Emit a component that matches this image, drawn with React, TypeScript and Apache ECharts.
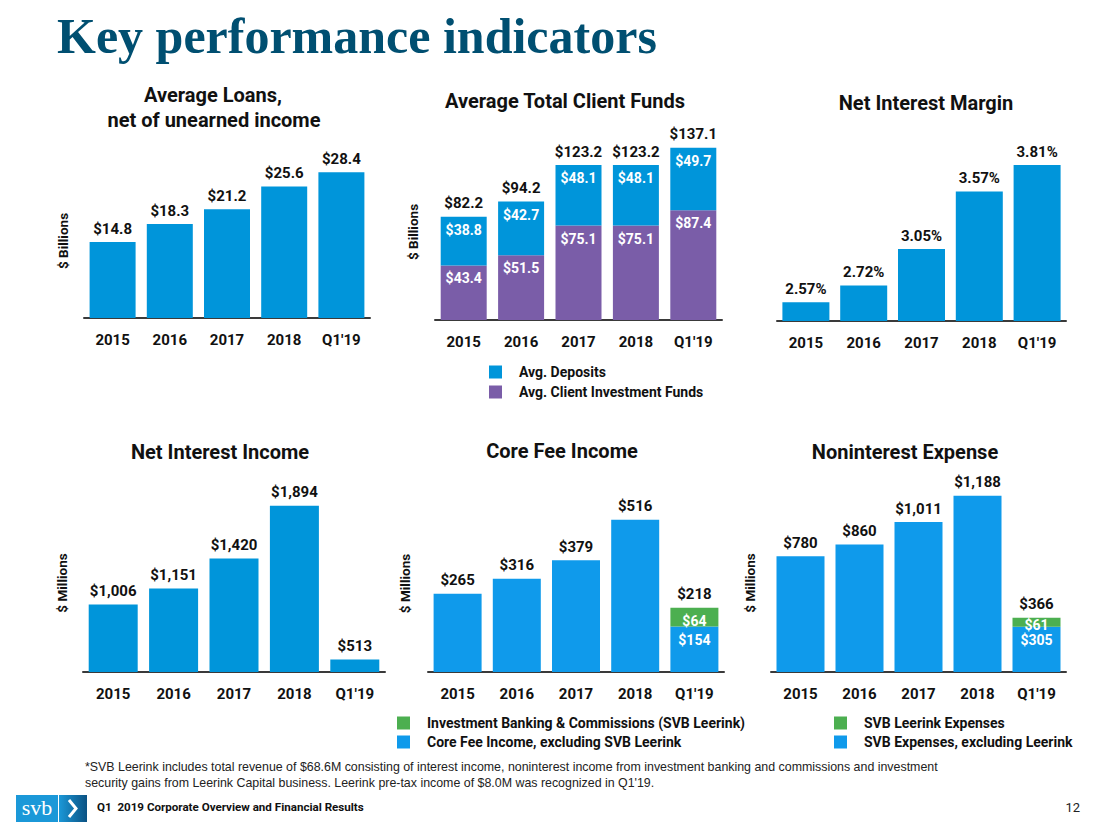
import React, { useEffect, useRef } from "react";
import * as echarts from "echarts";

const categories = ["2015", "2016", "2017", "2018", "Q1'19"];
const avgLoans = [14.8, 18.3, 21.2, 25.6, 28.4];
const clientInvestmentFunds = [43.4, 51.5, 75.1, 75.1, 87.4];
const avgDeposits = [38.8, 42.7, 48.1, 48.1, 49.7];
const netInterestMargin = [2.57, 2.72, 3.05, 3.57, 3.81];
const netInterestIncome = [1006, 1151, 1420, 1894, 513];
const coreFeeExLeerink = [265, 316, 379, 516, 154];
const investmentBankingLeerink: (number | null)[] = [null, null, null, null, 64];
const expensesExLeerink = [780, 860, 1011, 1188, 305];
const leerinkExpenses: (number | null)[] = [null, null, null, null, 61];

const F = "Roboto, 'Noto Sans', sans-serif";
const BLUE = "#0095DA";
const BLUE2 = "#0F9AEB";
const PURPLE = "#7A5DA8";
const GREEN = "#4CAF50";
const INK = "#111111";

const sumArr = (a: (number | null)[], b: (number | null)[]) =>
  a.map((v, i) => Math.round(((v ?? 0) + (b[i] ?? 0)) * 10) / 10);
const money = (v: number) => "$" + v.toLocaleString("en-US");
const money1 = (v: number) => "$" + v.toFixed(1);

const grids = [
  { left: 84, top: 164, width: 286, height: 154 },
  { left: 435, top: 144, width: 287, height: 176 },
  { left: 777, top: 144, width: 289, height: 177 },
  { left: 83, top: 494, width: 302, height: 178 },
  { left: 428, top: 495, width: 296, height: 177 },
  { left: 771, top: 494, width: 295, height: 178 },
];
const yCfg = [
  { min: 0, max: 30, name: "$ Billions", gap: 14 },
  { min: 0, max: 140, name: "$ Billions", gap: 15 },
  { min: 2.4, max: 4.0, name: "", gap: 14 },
  { min: 400, max: 2000, name: "$ Millions", gap: 14 },
  { min: 0, max: 600, name: "$ Millions", gap: 16 },
  { min: 0, max: 1200, name: "$ Millions", gap: 14 },
];
const barWidths = [46, 46, 47, 49, 48, 48];

const topLabel = (fmt: (v: number) => string) => ({
  show: true,
  position: "top" as const,
  distance: 6,
  color: INK,
  fontFamily: F,
  fontWeight: "bold" as const,
  fontSize: 15,
  formatter: (p: any) => fmt(p.value),
});
const inLabel = (fmt: (p: any) => string) => ({
  show: true,
  position: "insideTop" as const,
  distance: 6,
  color: "#ffffff",
  fontFamily: F,
  fontWeight: "bold" as const,
  fontSize: 14,
  formatter: fmt,
});

function buildOption() {
  const fundsTotal = sumArr(clientInvestmentFunds, avgDeposits);
  const feeTotal = sumArr(coreFeeExLeerink, investmentBankingLeerink);
  const expTotal = sumArr(expensesExLeerink, leerinkExpenses);

  const xAxis = grids.map((_, i) => ({
    gridIndex: i,
    type: "category",
    data: categories,
    axisLine: { lineStyle: { color: "#3a3a3a", width: 2 } },
    axisTick: { show: false },
    axisLabel: { fontFamily: F, fontWeight: "bold", fontSize: 15, color: INK, margin: 14 },
  }));
  const yAxis = yCfg.map((c, i) => ({
    gridIndex: i,
    type: "value",
    min: c.min,
    max: c.max,
    axisLine: { show: false },
    axisTick: { show: false },
    axisLabel: { show: false },
    splitLine: { show: false },
    name: c.name,
    nameLocation: "middle",
    nameRotate: 90,
    nameGap: c.gap,
    nameTextStyle: { fontFamily: F, fontWeight: "bold", fontSize: 13.5, color: INK },
  }));

  const series: any[] = [
    {
      type: "bar", name: "Average Loans", xAxisIndex: 0, yAxisIndex: 0,
      data: avgLoans, barWidth: barWidths[0], itemStyle: { color: BLUE },
      label: topLabel(money1),
    },
    {
      type: "bar", name: "Avg. Client Investment Funds", xAxisIndex: 1, yAxisIndex: 1,
      stack: "funds", data: clientInvestmentFunds, barWidth: barWidths[1], barGap: "-100%",
      itemStyle: { color: PURPLE }, label: inLabel((p) => money1(p.value)),
    },
    {
      type: "bar", name: "Avg. Deposits", xAxisIndex: 1, yAxisIndex: 1,
      stack: "funds", data: avgDeposits, barWidth: barWidths[1], barGap: "-100%",
      itemStyle: { color: BLUE }, label: inLabel((p) => money1(p.value)),
    },
    {
      type: "bar", name: "Total Client Funds", xAxisIndex: 1, yAxisIndex: 1,
      data: fundsTotal, barWidth: barWidths[1], barGap: "-100%", z: 1,
      itemStyle: { color: "rgba(0,0,0,0)" }, label: topLabel(money1),
    },
    {
      type: "bar", name: "Net Interest Margin", xAxisIndex: 2, yAxisIndex: 2,
      data: netInterestMargin, barWidth: barWidths[2], itemStyle: { color: BLUE },
      label: topLabel((v) => v.toFixed(2) + "%"),
    },
    {
      type: "bar", name: "Net Interest Income", xAxisIndex: 3, yAxisIndex: 3,
      data: netInterestIncome, barWidth: barWidths[3], itemStyle: { color: BLUE },
      label: topLabel(money),
    },
    {
      type: "bar", name: "Core Fee Income, excluding SVB Leerink", xAxisIndex: 4, yAxisIndex: 4,
      stack: "fee", data: coreFeeExLeerink, barWidth: barWidths[4], barGap: "-100%",
      itemStyle: { color: BLUE2 },
      label: inLabel((p) => (investmentBankingLeerink[p.dataIndex] != null ? money(p.value) : "")),
    },
    {
      type: "bar", name: "Investment Banking & Commissions (SVB Leerink)", xAxisIndex: 4, yAxisIndex: 4,
      stack: "fee", data: investmentBankingLeerink, barWidth: barWidths[4], barGap: "-100%",
      itemStyle: { color: GREEN }, label: inLabel((p) => money(p.value)),
    },
    {
      type: "bar", name: "Core Fee Total", xAxisIndex: 4, yAxisIndex: 4,
      data: feeTotal, barWidth: barWidths[4], barGap: "-100%", z: 1,
      itemStyle: { color: "rgba(0,0,0,0)" }, label: topLabel(money),
    },
    {
      type: "bar", name: "SVB Expenses, excluding Leerink", xAxisIndex: 5, yAxisIndex: 5,
      stack: "exp", data: expensesExLeerink, barWidth: barWidths[5], barGap: "-100%",
      itemStyle: { color: BLUE2 },
      label: inLabel((p) => (leerinkExpenses[p.dataIndex] != null ? money(p.value) : "")),
    },
    {
      type: "bar", name: "SVB Leerink Expenses", xAxisIndex: 5, yAxisIndex: 5,
      stack: "exp", data: leerinkExpenses, barWidth: barWidths[5], barGap: "-100%",
      itemStyle: { color: GREEN },
      label: { ...inLabel((p) => money(p.value)), distance: 0 },
    },
    {
      type: "bar", name: "Noninterest Expense Total", xAxisIndex: 5, yAxisIndex: 5,
      data: expTotal, barWidth: barWidths[5], barGap: "-100%", z: 1,
      itemStyle: { color: "rgba(0,0,0,0)" }, label: topLabel(money),
    },
  ];

  const legendBase = {
    orient: "vertical",
    selectedMode: false,
    icon: "rect",
    itemWidth: 13,
    itemHeight: 13,
    itemGap: 6,
    textStyle: { fontFamily: F, fontWeight: "bold", fontSize: 14, color: INK, padding: [0, 0, 0, 12] },
  };
  const legend = [
    { ...legendBase, left: 484, top: 360, data: ["Avg. Deposits", "Avg. Client Investment Funds"] },
    {
      ...legendBase, left: 392, top: 711, itemGap: 5,
      data: ["Investment Banking & Commissions (SVB Leerink)", "Core Fee Income, excluding SVB Leerink"],
    },
    {
      ...legendBase, left: 829, top: 711, itemGap: 5,
      data: ["SVB Leerink Expenses", "SVB Expenses, excluding Leerink"],
    },
  ];

  const sub = (text: string, x: number, y: number) => ({
    type: "text", x, y,
    style: { text, fill: INK, font: `bold 20px ${F}`, align: "center", verticalAlign: "middle" },
  });

  const footFont = "12.4px 'Liberation Sans', Arial, sans-serif";
  const graphic: any[] = [
    {
      type: "text", x: 57, y: 36,
      style: {
        text: "Key performance indicators", fill: "#004F71",
        font: "bold 50px 'Liberation Serif', 'DejaVu Serif', serif", verticalAlign: "middle",
      },
    },
    sub("Average Loans,", 213, 95),
    sub("net of unearned income", 214, 120),
    sub("Average Total Client Funds", 565, 101),
    sub("Net Interest Margin", 926, 103),
    sub("Net Interest Income", 220, 452),
    sub("Core Fee Income", 562, 451),
    sub("Noninterest Expense", 905, 452),
    {
      type: "text", x: 85, y: 767,
      style: {
        text: "*SVB Leerink includes total revenue of $68.6M consisting of interest income, noninterest income from investment banking and commissions and investment",
        fill: "#222", font: footFont, verticalAlign: "middle",
      },
    },
    {
      type: "text", x: 85, y: 783,
      style: {
        text: "security gains from Leerink Capital business. Leerink pre-tax income of $8.0M was recognized in Q1'19.",
        fill: "#222", font: footFont, verticalAlign: "middle",
      },
    },
    { type: "rect", shape: { x: 16, y: 795, width: 42, height: 27 }, style: { fill: "#1B98D8" } },
    {
      type: "rect", shape: { x: 59, y: 795, width: 28, height: 27 },
      style: {
        fill: new echarts.graphic.LinearGradient(0, 0, 1, 0, [
          { offset: 0, color: "#1B98D8" },
          { offset: 1, color: "#0B5283" },
        ]),
      },
    },
    {
      type: "text", x: 37, y: 807,
      style: { text: "svb", fill: "#fff", font: "22px 'Liberation Serif', serif", align: "center", verticalAlign: "middle" },
    },
    {
      type: "polyline",
      shape: { points: [[69, 800], [76, 808.5], [69, 817]] },
      style: { stroke: "#fff", lineWidth: 3, fill: null },
    },
    {
      type: "text", x: 97, y: 807,
      style: {
        text: "Q1  2019 Corporate Overview and Financial Results", fill: INK,
        font: `bold 11.6px ${F}`, verticalAlign: "middle",
      },
    },
    {
      type: "text", x: 1080, y: 807,
      style: { text: "12", fill: "#222", font: `13px ${F}`, align: "right", verticalAlign: "middle" },
    },
  ];

  return {
    animation: false,
    backgroundColor: "#ffffff",
    grid: grids.map((g) => ({ ...g, containLabel: false })),
    xAxis,
    yAxis,
    legend,
    series,
    graphic,
  };
}

export default function App() {
  const ref = useRef<HTMLDivElement>(null);
  useEffect(() => {
    if (!ref.current) return;
    const chart = echarts.init(ref.current, null, { renderer: "svg" });
    chart.setOption(buildOption() as any);
    return () => chart.dispose();
  }, []);
  return (
    <div
      ref={ref}
      style={{ position: "absolute", left: 0, top: 0, width: 1102, height: 828, background: "#fff" }}
    />
  );
}
